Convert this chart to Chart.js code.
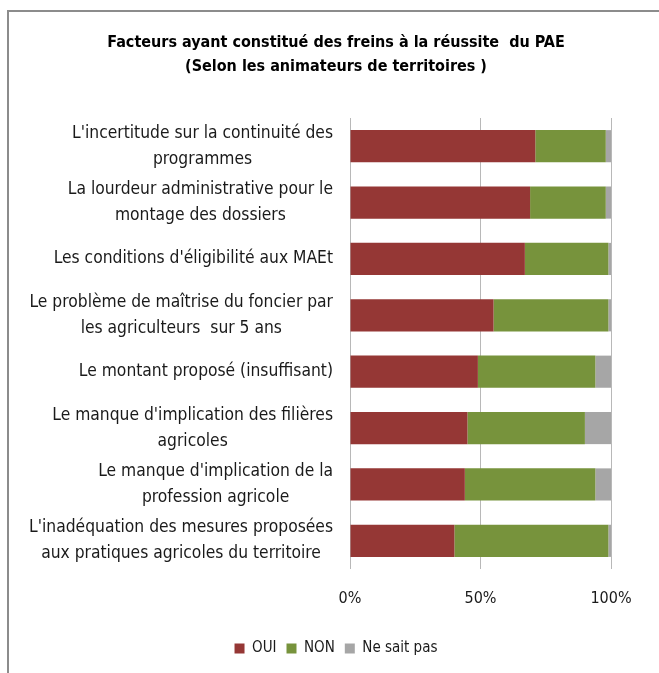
<!DOCTYPE html>
<html>
<head>
<meta charset="utf-8">
<script src="https://cdn.jsdelivr.net/npm/chart.js@4/dist/chart.umd.min.js"></script>
<style>
  html, body { margin: 0; padding: 0; background: #fff; overflow: hidden; width: 659px; height: 673px; }
  #frame { position: absolute; left: 7px; top: 10px; width: 700px; height: 700px; border: 2px solid #8c8c8c; box-sizing: border-box; }
  #wrap { position: absolute; left: 0; top: 0; width: 672px; height: 673px; }
</style>
</head>
<body>
<div id="frame"></div>
<div id="wrap"><canvas id="chart"></canvas></div>
<script>
// --- DONNÉES ---
const categories = [
  ["L'incertitude sur la continuité des", "programmes"],
  ["La lourdeur administrative pour le", "montage des dossiers"],
  ["Les conditions d'éligibilité aux MAEt"],
  ["Le problème de maîtrise du foncier par", "les agriculteurs  sur 5 ans"],
  ["Le montant proposé (insuffisant)"],
  ["Le manque d'implication des filières", "agricoles"],
  ["Le manque d'implication de la", "profession agricole"],
  ["L'inadéquation des mesures proposées", "aux pratiques agricoles du territoire"]
];
const oui = [71, 69, 67, 55, 49, 45, 44, 40];
const non = [27, 29, 32, 44, 45, 45, 50, 59];
const nsp = [2, 2, 1, 1, 6, 10, 6, 1];
const xTicks = [0, 50, 100];

const FONT = "'Liberation Sans Narrow', 'DejaVu Sans Condensed', sans-serif";

// --- ÉTIQUETTES (lignes centrées, bloc aligné à droite) ---
const labelPlugin = {
  id: "catLabels",
  afterDraw(chart) {
    const ctx = chart.ctx;
    const y = chart.scales.y;
    const right = chart.chartArea.left - 17;
    const lh = 26;
    ctx.save();
    ctx.font = "17.3px " + FONT;
    ctx.fillStyle = "#1a1a1a";
    ctx.textAlign = "center";
    ctx.textBaseline = "middle";
    categories.forEach((lines, i) => {
      const cy = y.getPixelForTick(i);
      const w = Math.max(...lines.map(l => ctx.measureText(l).width));
      const cx = right - w / 2;
      const y0 = cy - (lines.length - 1) * lh / 2;
      lines.forEach((l, k) => ctx.fillText(l, cx, y0 + k * lh));
    });
    ctx.restore();
  }
};

new Chart(document.getElementById("chart"), {
  type: "bar",
  data: {
    labels: categories,
    datasets: [
      { label: "OUI", data: oui, backgroundColor: "#953735" },
      { label: "NON", data: non, backgroundColor: "#77933C" },
      { label: "Ne sait pas", data: nsp, backgroundColor: "#A6A6A6" }
    ]
  },
  options: {
    indexAxis: "y",
    responsive: true,
    maintainAspectRatio: false,
    animation: false,
    layout: { padding: { left: 0, right: 0, top: 0, bottom: 7 } },
    datasets: { bar: { barPercentage: 0.57, categoryPercentage: 1 } },
    scales: {
      x: {
        stacked: true,
        min: 0,
        max: 100,
        afterBuildTicks: (s) => { s.ticks = xTicks.map(v => ({ value: v })); },
        afterFit: (s) => { s.height = 62; },
        border: { display: false },
        grid: { color: "#b8b8b8", lineWidth: 1, drawTicks: false },
        ticks: {
          padding: 20,
          color: "#1a1a1a",
          font: { family: FONT, size: 16 },
          callback: (v) => v + "%"
        }
      },
      y: {
        stacked: true,
        afterFit: (s) => { s.width = 350; },
        border: { display: false },
        grid: { display: false },
        ticks: { display: false }
      },
      yRight: {
        type: "category",
        position: "right",
        afterFit: (s) => { s.width = 61; },
        border: { display: false },
        grid: { display: false },
        ticks: { display: false }
      }
    },
    plugins: {
      title: {
        display: true,
        text: ["Facteurs ayant constitué des freins à la réussite  du PAE", "(Selon les animateurs de territoires )"],
        color: "#000",
        font: { family: FONT, size: 16, weight: "bold", lineHeight: 1.5 },
        padding: { top: 31, bottom: 39 }
      },
      legend: {
        position: "bottom",
        labels: {
          color: "#1a1a1a",
          font: { family: FONT, size: 15 },
          boxWidth: 10,
          boxHeight: 10,
          padding: 10
        }
      },
      tooltip: { enabled: false }
    }
  },
  plugins: [labelPlugin]
});
</script>
</body>
</html>
